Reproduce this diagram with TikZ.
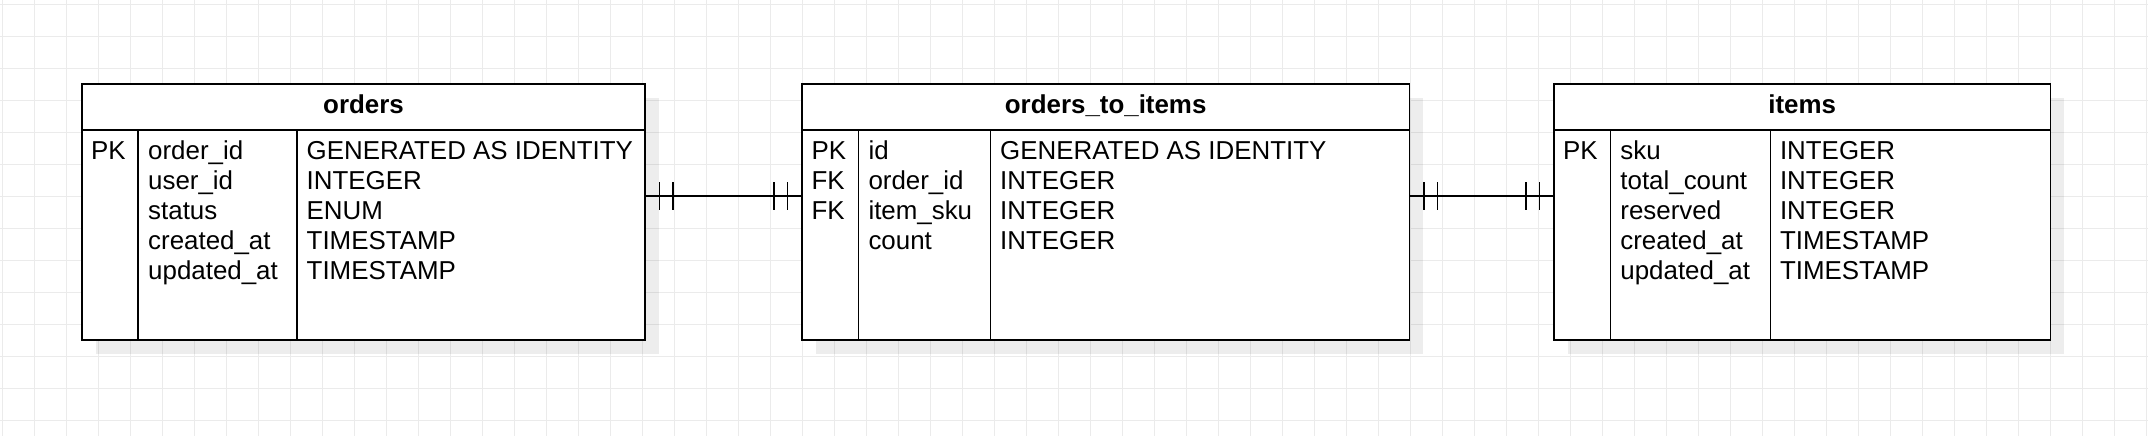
\documentclass[tikz,border=0pt]{standalone}
\usepackage{fontspec}
\setmainfont{Liberation Sans}
\usetikzlibrary{shadows,decorations.markings}
\definecolor{gridline}{RGB}{235,235,235}

\begin{document}
\begin{tikzpicture}[x=1pt, y=-1pt, line width=1.4pt,
  font=\fontsize{25.9}{30}\selectfont,
  tbl/.style={draw, fill=white, anchor=north west, inner sep=0pt, outer sep=0pt,
    drop shadow={shadow xshift=14pt, shadow yshift=-14pt, fill=black, opacity=0.07}},
  ttl/.style={anchor=base, inner sep=0pt, font=\fontsize{25.9}{30}\selectfont\bfseries},
  fld/.style={anchor=base west, inner sep=0pt},
  gridl/.style={draw=gridline, line width=1pt},
  mandone/.style={postaction={decorate, decoration={markings,
    mark=at position 14.5pt with {\draw (0,-14) -- (0,14);},
    mark=at position 28pt with {\draw (0,-14) -- (0,14);},
    mark=at position -14.5pt with {\draw (0,-14) -- (0,14);},
    mark=at position -28pt with {\draw (0,-14) -- (0,14);}}}}]
\useasboundingbox (0,0) rectangle (2148,436);
\fill[white] (0,0) rectangle (2148,436);
% background grid
\foreach \gx in {0,...,67} \draw[gridl] (2.7+32*\gx,0) -- (2.7+32*\gx,436);
\foreach \gy in {0,...,13} \draw[gridl] (0,4.3+32*\gy) -- (2148,4.3+32*\gy);

% orders: frame, title bar, two column rules
\node[tbl, minimum width=563pt, minimum height=256pt] (orders) at (82,84) {};
\node[ttl] (orders-title) at ([yshift=-29.5pt]orders.north) {orders};
\draw ([yshift=-46pt]orders.north west) -- ([yshift=-46pt]orders.north east);
\draw ([xshift=56pt]orders.south west) -- ++(0,-210);
\draw ([xshift=215pt]orders.south west) -- ++(0,-210);
\foreach \k [count=\i from 0] in {PK}
  \node[fld] (orders-k\i) at (90.5,159.5+30*\i) {\k};
\foreach \n/\t [count=\i from 0] in {order\_id/GENERATED AS IDENTITY,
    user\_id/INTEGER, status/ENUM, created\_at/TIMESTAMP, updated\_at/TIMESTAMP} {
  \node[fld] (orders-n\i) at (147.5,159.5+30*\i) {\n};
  \node[fld] (orders-t\i) at (306,159.5+30*\i) {\t};
}

% orders_to_items
\node[tbl, minimum width=607.3pt, minimum height=256pt] (o2i) at (802,84) {};
\node[ttl] (o2i-title) at ([yshift=-29.5pt]o2i.north) {orders\_to\_items};
\draw ([yshift=-46pt]o2i.north west) -- ([yshift=-46pt]o2i.north east);
\draw ([xshift=56.3pt]o2i.south west) -- ++(0,-210);
\draw ([xshift=188.5pt]o2i.south west) -- ++(0,-210);
\foreach \k [count=\i from 0] in {PK,FK,FK}
  \node[fld] (o2i-k\i) at (810.8,159.5+30*\i) {\k};
\foreach \n/\t [count=\i from 0] in {id/GENERATED AS IDENTITY,
    order\_id/INTEGER, item\_sku/INTEGER, count/INTEGER} {
  \node[fld] (o2i-n\i) at (867.8,159.5+30*\i) {\n};
  \node[fld] (o2i-t\i) at (999.5,159.5+30*\i) {\t};
}

% items
\node[tbl, minimum width=496.3pt, minimum height=256pt] (items) at (1554,84) {};
\node[ttl] (items-title) at ([yshift=-29.5pt]items.north) {items};
\draw ([yshift=-46pt]items.north west) -- ([yshift=-46pt]items.north east);
\draw ([xshift=56.2pt]items.south west) -- ++(0,-210);
\draw ([xshift=216.3pt]items.south west) -- ++(0,-210);
\foreach \k [count=\i from 0] in {PK}
  \node[fld] (items-k\i) at (1562.5,159.5+30*\i) {\k};
\foreach \n/\t [count=\i from 0] in {sku/INTEGER, total\_count/INTEGER,
    reserved/INTEGER, created\_at/TIMESTAMP, updated\_at/TIMESTAMP} {
  \node[fld] (items-n\i) at (1619.7,159.5+30*\i) {\n};
  \node[fld] (items-t\i) at (1779.3,159.5+30*\i) {\t};
}

% one-and-only-one links
\draw[mandone] ([yshift=16pt]orders.east) -- ([yshift=16pt]o2i.west);
\draw[mandone] ([yshift=16pt]o2i.east) -- ([yshift=16pt]items.west);
\end{tikzpicture}
\end{document}
